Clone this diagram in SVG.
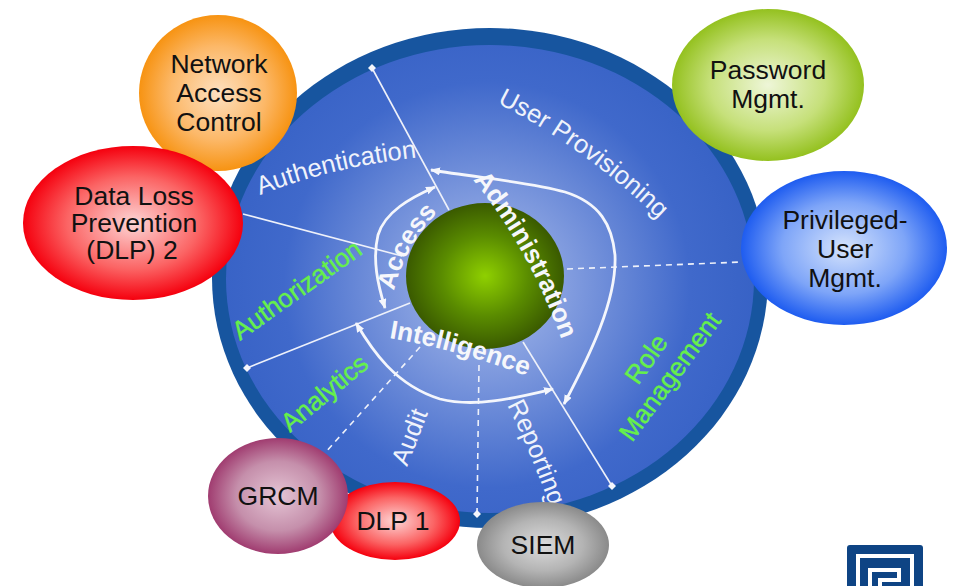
<svg xmlns="http://www.w3.org/2000/svg" xmlns:xlink="http://www.w3.org/1999/xlink" width="954" height="586" viewBox="0 0 954 586">
<style>
text{font-family:"Liberation Sans",Arial,sans-serif}
.n{font-size:26.5px;fill:#111;text-anchor:middle}
.w{font-size:25.5px;fill:#f0f3fb}
.g{font-size:26px;fill:#66f04a;stroke:#66f04a;stroke-width:.4}
.b{font-size:26px;font-weight:700;fill:#f6f7fb}
.l{fill:none;stroke:#eef1fa;stroke-width:1.6}
.d{stroke-dasharray:6 5}
.a{fill:none;stroke:#f4f6fc;stroke-width:2.8}
</style>
<defs>
<marker id="ah" markerWidth="12" markerHeight="10" refX="9" refY="4" orient="auto-start-reverse" markerUnits="userSpaceOnUse"><path d="M0 0L10 4L0 8Z" fill="#f4f6fc"/></marker>
<marker id="dot" markerWidth="10" markerHeight="10" refX="5" refY="5" orient="0" markerUnits="userSpaceOnUse"><path d="M5 1L9 5L5 9L1 5Z" fill="#f4f6fc"/></marker>
<radialGradient id="bl" gradientUnits="userSpaceOnUse" cx="487" cy="285" r="290"><stop offset="0" stop-color="#a9bdec"/><stop offset=".3" stop-color="#7f9ade"/><stop offset=".7" stop-color="#4069cb"/><stop offset="1" stop-color="#3560c4"/></radialGradient>
<radialGradient id="gr"><stop offset="0" stop-color="#8fd000"/><stop offset=".55" stop-color="#5a8c00"/><stop offset="1" stop-color="#3a5a00"/></radialGradient>
<radialGradient id="or"><stop offset="0" stop-color="#fde0c0"/><stop offset=".6" stop-color="#fcb868"/><stop offset="1" stop-color="#f79312"/></radialGradient>
<radialGradient id="rd"><stop offset="0" stop-color="#fdd5d5"/><stop offset=".6" stop-color="#fb6464"/><stop offset="1" stop-color="#f5000e"/></radialGradient>
<radialGradient id="lm"><stop offset="0" stop-color="#eef6d8"/><stop offset=".6" stop-color="#c6e07a"/><stop offset="1" stop-color="#94c11f"/></radialGradient>
<radialGradient id="bb"><stop offset="0" stop-color="#d5e3fc"/><stop offset=".6" stop-color="#7ea5f8"/><stop offset="1" stop-color="#1e5cf0"/></radialGradient>
<radialGradient id="pu"><stop offset="0" stop-color="#e5c5d5"/><stop offset=".6" stop-color="#c58fab"/><stop offset="1" stop-color="#a03c70"/></radialGradient>
<radialGradient id="gy"><stop offset="0" stop-color="#dcdcdc"/><stop offset=".6" stop-color="#b4b4b4"/><stop offset="1" stop-color="#8a8a8a"/></radialGradient>
<path id="pAuth" d="M260 195Q335 166 422 157"/>
<path id="pProv" d="M497 103Q590 150 672 232"/>
<path id="pAuz" d="M240 341L368 250"/>
<path id="pAna" d="M290 433L380 358"/>
<path id="pAud" d="M407 467L432 403"/>
<path id="pRep" d="M507 405Q530 450 553 515"/>
<path id="pRole" d="M638 386L669 342"/>
<path id="pMgmt" d="M632 443L730 310"/>
<path id="pAcc" d="M394 291Q405 245 439 211"/>
<path id="pAdm" d="M473 180Q531 250 565 350"/>
<path id="pInt" d="M389 338Q460 350 532 378"/>
</defs>
<rect width="954" height="586" fill="#fff"/>
<g id="disc">
<ellipse cx="490" cy="278" rx="278" ry="250" fill="#17559f"/>
<ellipse cx="490" cy="279" rx="264" ry="234" fill="url(#bl)"/>
</g>
<g id="connectors">
<path class="l" d="M372 68L449 210" marker-start="url(#dot)"/>
<path class="l" d="M243 214L402 256"/>
<path class="l" d="M247 368L410 303" marker-start="url(#dot)"/>
<path class="l d" d="M420 347L325 453"/>
<path class="l d" d="M479 365L477 514" marker-end="url(#dot)"/>
<path class="l" d="M523 342L612 486" marker-end="url(#dot)"/>
<path class="l d" d="M567 269L742 262"/>
<path class="a" d="M431 170C480 178 530 182 565 192C600 203 612 225 615 255C617 300 590 355 564 404" marker-start="url(#ah)" marker-end="url(#ah)"/>
<path class="a" d="M435 187C410 198 385 212 378 235C372 260 378 285 385 308" marker-start="url(#ah)" marker-end="url(#ah)"/>
<path class="a" d="M356 323C372 350 395 385 440 399C475 408 515 398 553 389" marker-start="url(#ah)" marker-end="url(#ah)"/>
</g>
<g id="core"><ellipse cx="485" cy="276" rx="79" ry="73" fill="url(#gr)"/></g>
<g id="labels">
<text class="w"><textPath href="#pAuth" xlink:href="#pAuth">Authentication</textPath></text>
<text class="w"><textPath href="#pProv" xlink:href="#pProv">User Provisioning</textPath></text>
<text class="g"><textPath href="#pAuz" xlink:href="#pAuz">Authorization</textPath></text>
<text class="g"><textPath href="#pAna" xlink:href="#pAna">Analytics</textPath></text>
<text class="w"><textPath href="#pAud" xlink:href="#pAud">Audit</textPath></text>
<text class="w"><textPath href="#pRep" xlink:href="#pRep">Reporting</textPath></text>
<text class="g"><textPath href="#pRole" xlink:href="#pRole">Role</textPath></text>
<text class="g"><textPath href="#pMgmt" xlink:href="#pMgmt">Management</textPath></text>
<text class="b"><textPath href="#pAcc" xlink:href="#pAcc">Access</textPath></text>
<text class="b"><textPath href="#pAdm" xlink:href="#pAdm">Administration</textPath></text>
<text class="b"><textPath href="#pInt" xlink:href="#pInt">Intelligence</textPath></text>
</g>
<g id="nac"><ellipse cx="218" cy="93" rx="79" ry="78" fill="url(#or)"/><text class="n" x="219" y="73">Network</text><text class="n" x="219" y="102">Access</text><text class="n" x="219" y="131">Control</text></g>
<g id="dlp2"><ellipse cx="133" cy="223" rx="110" ry="77" fill="url(#rd)"/><text class="n" x="134" y="205">Data Loss</text><text class="n" x="134" y="232">Prevention</text><text class="n" x="132" y="259">(DLP) 2</text></g>
<g id="password"><ellipse cx="768" cy="85" rx="96" ry="76" fill="url(#lm)"/><text class="n" x="768" y="79">Password</text><text class="n" x="768" y="108">Mgmt.</text></g>
<g id="privileged"><ellipse cx="844" cy="248" rx="103" ry="77" fill="url(#bb)"/><text class="n" x="845" y="229">Privileged-</text><text class="n" x="845" y="258">User</text><text class="n" x="845" y="287">Mgmt.</text></g>
<g id="dlp1"><ellipse cx="395" cy="521" rx="65" ry="39" fill="url(#rd)"/><text class="n" x="393" y="530">DLP 1</text></g>
<g id="grcm"><ellipse cx="278" cy="496" rx="70" ry="58" fill="url(#pu)"/><text class="n" x="278" y="505">GRCM</text></g>
<g id="siem"><ellipse cx="543" cy="545" rx="66" ry="43" fill="url(#gy)"/><text class="n" x="543" y="554">SIEM</text></g>
<g id="logo" fill="none" stroke="#0e4484">
<rect x="847" y="545" width="76" height="50" rx="3" fill="#0e4484" stroke="none"/>
<path d="M858 590V556H912V590" stroke="#fff" stroke-width="4"/>
<path d="M870 590V570H899V580H880V590" stroke="#fff" stroke-width="4"/>
</g>
</svg>
